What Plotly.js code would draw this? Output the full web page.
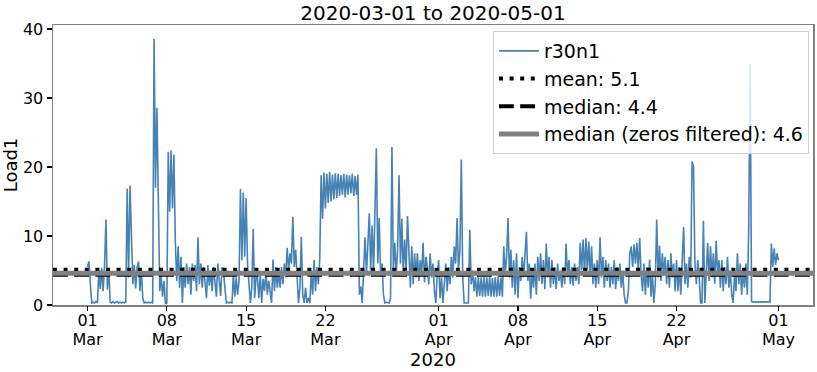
<!DOCTYPE html>
<html>
<head>
<meta charset="utf-8">
<script src="https://cdn.plot.ly/plotly-3.0.1.min.js"></script>
<style>html,body{margin:0;padding:0;background:#fff;}#chart{width:817px;height:372px;}</style>
</head>
<body>
<div id="chart"></div>
<script>
// Series: r30n1 Load1, one value every 3 hours starting 2020-03-01 00:00 (8 per day)
const seriesStart = '2020-03-01T00:00:00Z';
const stepHours = 3;
const loadR30n1 = [
  5.5, 6.3, 3.0, 0.3, 0.4, 0.3, 0.5, 0.3,
  5.0, 2.3, 5.4, 2.0, 5.6, 12.4, 2.2, 5.2,
  0.4, 0.3, 0.5, 0.3, 0.4, 0.5, 0.3, 0.4,
  0.3, 0.4, 0.3, 0.4, 16.9, 4.0, 17.3, 9.2,
  3.0, 5.8, 2.4, 5.5, 6.3, 2.0, 5.2, 1.0,
  0.3, 0.4, 0.3, 0.4, 0.3, 0.4, 0.3, 38.6,
  17.0, 28.6, 16.5, 2.0, 4.2, 1.2, 3.5, 0.2,
  0.3, 22.2, 13.5, 22.4, 14.0, 21.8, 9.2, 3.5,
  8.5, 2.5, 7.0, 0.3, 5.5, 2.5, 6.0, 3.0,
  5.5, 1.5, 6.0, 3.5, 5.8, 2.0, 9.8, 3.0,
  6.0, 2.5, 5.5, 3.5, 1.0, 5.8, 2.8, 5.0,
  2.0, 5.5, 3.0, 1.2, 6.0, 3.5, 1.3, 5.5,
  5.0, 2.5, 0.3, 0.4, 0.3, 0.4, 0.3, 4.5,
  1.2, 4.0, 1.5, 3.5, 16.8, 6.5, 16.3, 7.0,
  15.5, 6.0, 3.0, 0.3, 2.5, 11.0, 1.0, 4.0,
  4.0, 1.0, 4.5, 0.3, 3.8, 2.0, 5.0, 1.5,
  3.5, 1.5, 0.3, 6.6, 2.0, 5.5, 2.5, 4.8,
  2.5, 5.5, 3.0, 6.0, 4.0, 8.3, 5.0, 7.5,
  6.0, 12.8, 5.5, 8.0, 3.0, 0.3, 2.5, 9.9,
  1.5, 0.3, 2.5, 0.3, 1.0, 0.3, 4.5, 1.5,
  6.5, 2.0, 5.5, 3.0, 6.6, 18.8, 12.5, 19.2,
  14.0, 19.0, 14.8, 19.3, 15.0, 18.9, 15.3, 19.1,
  15.5, 19.0, 15.8, 18.8, 16.0, 19.0, 15.6, 18.9,
  16.0, 18.8, 16.2, 19.0, 15.8, 18.7, 16.0, 18.9,
  1.5, 2.7, 0.3, 6.0, 9.8, 4.5, 8.5, 13.3,
  5.0, 11.5, 4.5, 12.0, 22.7, 6.0, 12.6, 4.5,
  6.0, 1.5, 0.3, 0.4, 0.3, 0.3, 1.0, 22.9,
  5.0, 9.0, 4.5, 8.0, 18.8, 6.0, 12.5, 4.5,
  9.5, 5.0, 12.9, 6.0, 2.5, 8.5, 3.0, 7.5,
  4.0, 7.5, 3.5, 6.5, 4.5, 9.0, 3.3, 7.0,
  5.5, 3.0, 7.5, 4.0, 6.0, 2.0, 0.3, 4.5,
  6.5, 1.0, 4.0, 0.3, 3.0, 6.0, 2.0, 5.5,
  3.0, 7.0, 4.0, 8.5, 6.0, 12.6, 5.0, 8.0,
  21.1, 4.0, 0.3, 0.3, 0.4, 0.3, 10.9, 3.0,
  5.0, 2.0, 4.0, 1.2, 4.1, 1.3, 4.0, 1.2,
  4.1, 1.2, 4.0, 1.3, 4.1, 1.2, 3.9, 1.2,
  4.0, 1.2, 4.1, 1.3, 4.0, 1.2, 8.5, 4.5,
  7.0, 12.6, 4.0, 8.0, 2.5, 6.5, 1.5, 7.5,
  1.0, 5.5, 3.5, 7.0, 4.0, 8.0, 10.6, 3.5,
  6.0, 0.9, 5.0, 2.5, 6.0, 1.5, 7.0, 3.5,
  7.5, 3.0, 6.5, 2.3, 8.9, 4.0, 7.0, 2.5,
  6.5, 3.0, 5.5, 2.3, 6.0, 3.5, 5.0, 2.5,
  5.5, 3.0, 8.9, 4.0, 6.5, 3.0, 5.5, 2.8,
  6.0, 3.5, 5.5, 3.0, 9.0, 5.0, 9.5, 4.5,
  9.7, 5.0, 9.2, 4.2, 8.5, 3.0, 6.0, 2.5,
  6.5, 3.0, 9.8, 4.0, 7.0, 2.5, 6.5, 3.5,
  6.0, 2.5, 5.5, 3.0, 6.5, 2.3, 5.5, 3.5,
  6.0, 2.5, 5.0, 1.5, 0.3, 0.3, 2.0, 7.5,
  8.5, 5.5, 8.8, 6.0, 9.0, 5.0, 9.7, 4.5,
  2.0, 6.0, 1.5, 5.5, 2.5, 6.6, 1.2, 4.5,
  0.3, 3.0, 12.4, 4.0, 8.6, 3.5, 7.5, 4.5,
  7.0, 3.0, 6.5, 2.5, 7.5, 4.0, 6.0, 2.0,
  6.5, 2.0, 5.5, 1.5, 6.0, 11.3, 3.0, 6.0,
  2.5, 7.0, 4.0, 20.8, 20.0, 6.0, 3.0, 6.5,
  4.0, 0.3, 0.3, 12.2, 0.3, 6.0, 9.0, 3.5,
  8.5, 4.0, 7.5, 3.1, 9.3, 4.5, 6.5, 2.5,
  6.5, 2.0, 5.5, 3.0, 7.0, 2.5, 5.0, 1.5,
  0.3, 4.5, 2.0, 7.5, 3.0, 6.0, 1.5, 5.0,
  2.5, 6.0, 1.5, 11.0, 34.9, 0.5, 0.4, 0.5,
  0.4, 0.5, 0.4, 0.5, 0.4, 0.5, 0.4, 0.5,
  0.4, 0.5, 0.4, 8.9, 5.5, 8.2, 5.8, 7.5,
  6.5
];

const statNames = ['mean: 5.1', 'median: 4.4', 'median (zeros filtered): 4.6'];
const statValues = [5.1, 4.4, 4.6];

const xRange = ['2020-02-26 22:48', '2020-05-04 01:12'];
const tickDates = ['2020-03-01','2020-03-08','2020-03-15','2020-03-22','2020-04-01','2020-04-08','2020-04-15','2020-04-22','2020-05-01'];
const tickDays = ['01','08','15','22','01','08','15','22','01'];
const tickMonths = ['Mar','Mar','Mar','Mar','Apr','Apr','Apr','Apr','May'];
const yTicks = [0, 10, 20, 30, 40];

const t0 = Date.parse(seriesStart);
const times = loadR30n1.map((_, i) => new Date(t0 + i * stepHours * 3600000).toISOString().slice(0, 19).replace('T', ' '));

const traces = [
  {x: times, y: loadR30n1, type: 'scatter', mode: 'lines', name: 'r30n1',
   line: {color: '#4682b4', width: 1.6}},
  {x: xRange, y: [statValues[0], statValues[0]], type: 'scatter', mode: 'lines', name: statNames[0],
   line: {color: '#000000', width: 4, dash: '4px,6.6px'}},
  {x: xRange, y: [statValues[1], statValues[1]], type: 'scatter', mode: 'lines', name: statNames[1],
   line: {color: '#000000', width: 4, dash: '14.8px,6.4px'}},
  {x: xRange, y: [statValues[2], statValues[2]], type: 'scatter', mode: 'lines', name: statNames[2],
   line: {color: '#808080', width: 5}},
  {x: [], y: [], type: 'scatter', mode: 'lines', xaxis: 'x2', yaxis: 'y', showlegend: false, hoverinfo: 'skip'}
];

const layout = {
  width: 817, height: 372,
  margin: {l: 53, r: 4, t: 25, b: 67},
  paper_bgcolor: '#ffffff', plot_bgcolor: '#ffffff',
  font: {family: 'DejaVu Sans, sans-serif', color: '#000000', size: 16},
  title: {text: '2020-03-01 to 2020-05-01', font: {size: 20}, x: 0.5, xref: 'paper', xanchor: 'center', y: 0.964, yanchor: 'middle'},
  showlegend: true,
  legend: {x: 0.9947, xanchor: 'right', y: 0.9786, yanchor: 'top',
           bgcolor: 'rgba(255,255,255,0.8)', bordercolor: '#d0d0d0', borderwidth: 1,
           font: {size: 19}, tracegroupgap: 0, itemwidth: 40},
  xaxis: {type: 'date', range: xRange, tickvals: tickDates, ticktext: tickDays,
          ticks: '', ticklen: 0,
          showline: true, linecolor: '#808080', linewidth: 1.5, mirror: true,
          showgrid: false, zeroline: false, tickfont: {size: 16}},
  xaxis2: {type: 'date', overlaying: 'x', anchor: 'y', side: 'bottom', range: xRange,
           tickvals: tickDates, ticktext: tickMonths,
           ticks: 'outside', ticklen: 5, tickwidth: 1.2, tickcolor: '#000', ticklabelstandoff: 15,
           showline: false, showgrid: false, zeroline: false, tickfont: {size: 16},
           title: {text: '2020', font: {size: 18}, standoff: 3}},
  yaxis: {range: [0, 40.58], tickvals: yTicks, ticks: 'outside', ticklen: 5, tickwidth: 1.2, tickcolor: '#000',
          showline: true, linecolor: '#808080', linewidth: 1.5, mirror: true,
          showgrid: false, zeroline: false, tickfont: {size: 16},
          title: {text: 'Load1', font: {size: 18}, standoff: 0}}
};

Plotly.newPlot('chart', traces, layout, {displayModeBar: false, staticPlot: true});
</script>
</body>
</html>
